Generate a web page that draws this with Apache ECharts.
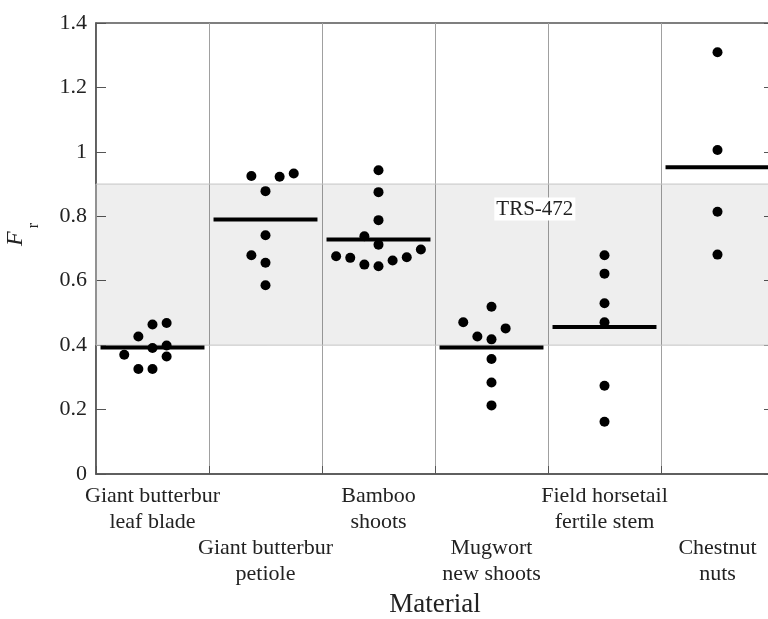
<!DOCTYPE html>
<html>
<head>
<meta charset="utf-8">
<script src="https://cdn.jsdelivr.net/npm/echarts@6/dist/echarts.min.js"></script>
<style>
    html, body { margin: 0; background: #fff; }
    #chart { width: 768px; height: 619px; }
</style>
</head>
<body>
<div id="chart"></div>
<script>
const materials = ['Giant butterbur\nleaf blade', 'Giant butterbur\npetiole', 'Bamboo\nshoots',
    'Mugwort\nnew shoots', 'Field horsetail\nfertile stem', 'Chestnut\nnuts'];

// Fr of each sample, and how far its dot sits from the column centre (in column widths)
const leafBladeFr = [0.370, 0.427, 0.464, 0.469, 0.391, 0.399, 0.365, 0.326, 0.326];
const leafBladeShift = [-0.25, -0.125, 0, 0.125, 0, 0.125, 0.125, -0.125, 0];
const petioleFr = [0.925, 0.923, 0.933, 0.878, 0.741, 0.679, 0.656, 0.586];
const petioleShift = [-0.125, 0.125, 0.25, 0, 0, -0.125, 0, 0];
const bambooFr = [0.943, 0.875, 0.788, 0.738, 0.712, 0.676, 0.671, 0.650, 0.645, 0.663, 0.673, 0.697];
const bambooShift = [0, 0, 0, -0.125, 0, -0.375, -0.25, -0.125, 0, 0.125, 0.25, 0.375];
const mugwortFr = [0.519, 0.471, 0.452, 0.427, 0.418, 0.357, 0.284, 0.213];
const mugwortShift = [0, -0.25, 0.125, -0.125, 0, 0, 0, 0];
const horsetailFr = [0.679, 0.622, 0.530, 0.471, 0.274, 0.162];
const horsetailShift = [0, 0, 0, 0, 0, 0];
const chestnutFr = [1.309, 1.006, 0.814, 0.681];
const chestnutShift = [0, 0, 0, 0];

const yTicks = [0, 0.2, 0.4, 0.6, 0.8, 1, 1.2, 1.4];
const trsRange = [0.4, 0.9];
const trsName = 'TRS-472';

const groups = [
    [leafBladeFr, leafBladeShift],
    [petioleFr, petioleShift],
    [bambooFr, bambooShift],
    [mugwortFr, mugwortShift],
    [horsetailFr, horsetailShift],
    [chestnutFr, chestnutShift]
];

let dots = [];
groups.forEach(([fr, shift], i) => {
    fr.forEach((v, k) => dots.push([i + 0.5 + shift[k], v]));
});
let means = groups.map(([fr], i) => [i, fr.reduce((a, b) => a + b, 0) / fr.length]);

const FONT = 'Liberation Serif';
const INK = '#222';
const AXIS = '#555';

let myChart = echarts.init(document.getElementById('chart'));
let option = {
    animation: false,
    textStyle: { fontFamily: FONT },
    grid: {
        left: 96, top: 23, bottom: 145, right: -6,
        containLabel: false, outerBoundsMode: 'none',
        show: true, borderColor: AXIS, borderWidth: 1.5
    },
    xAxis: [
        {
            type: 'value', min: 0, max: materials.length, interval: 1,
            axisLine: { lineStyle: { color: AXIS, width: 1.5 } },
            axisTick: { inside: true, length: 8, lineStyle: { color: AXIS } },
            axisLabel: { show: false },
            splitLine: { show: true, lineStyle: { color: '#a0a0a0', width: 1 } }
        },
        {
            type: 'category', data: materials, position: 'bottom',
            axisLine: { show: false },
            axisTick: { show: false },
            axisLabel: {
                interval: 0, margin: 9, fontSize: 22, lineHeight: 26, color: INK, fontFamily: FONT,
                formatter: (val, idx) => (idx % 2 ? '\n\n' + val : val)
            },
            name: 'Material', nameLocation: 'middle', nameGap: 117,
            nameTextStyle: { fontSize: 27, color: INK, fontFamily: FONT }
        }
    ],
    yAxis: [
        {
            type: 'value', min: yTicks[0], max: yTicks[yTicks.length - 1], interval: 0.2,
            axisLine: { show: true, lineStyle: { color: AXIS, width: 1.5 } },
            axisTick: { show: true, inside: true, length: 10, lineStyle: { color: AXIS } },
            axisLabel: { fontSize: 22, margin: 9, color: INK, fontFamily: FONT },
            splitLine: { show: false },
            name: '{f|F}{r|r}', nameLocation: 'middle', nameGap: 54,
            nameTextStyle: {
                padding: [0, 0, 0, 28],
                rich: {
                    f: { fontSize: 24, fontStyle: 'italic', fontFamily: FONT, color: INK, lineHeight: 52, verticalAlign: 'middle' },
                    r: { fontSize: 16, fontFamily: FONT, color: INK, lineHeight: 16, padding: [0, 0, 0, 3], verticalAlign: 'bottom' }
                }
            }
        },
        {
            type: 'value', position: 'right', min: yTicks[0], max: yTicks[yTicks.length - 1], interval: 0.2,
            axisLine: { show: true, lineStyle: { color: AXIS, width: 1.5 } },
            axisTick: { show: true, inside: true, length: 10, lineStyle: { color: AXIS } },
            axisLabel: { show: false },
            splitLine: { show: false }
        }
    ],
    series: [
        {
            type: 'line', data: [], z: 1,
            markArea: {
                silent: true,
                itemStyle: { color: 'rgba(0,0,0,0.065)', borderColor: '#c4c4c4', borderWidth: 1 },
                label: {
                    show: true, position: ['64.7%', '15.7%'], align: 'center', verticalAlign: 'middle',
                    fontSize: 21, fontFamily: FONT, color: INK, backgroundColor: '#fff', padding: [1, 2]
                },
                data: [[{ name: trsName, yAxis: trsRange[0], xAxis: 0 }, { yAxis: trsRange[1], xAxis: materials.length }]]
            }
        },
        {
            type: 'scatter', data: dots, symbolSize: 10, z: 3,
            itemStyle: { color: '#000', opacity: 1 }
        },
        {
            type: 'custom', data: means, z: 4,
            renderItem: function (params, api) {
                let i = api.value(0), m = api.value(1);
                let a = api.coord([i + 0.04, m]);
                let b = api.coord([i + 0.96, m]);
                return {
                    type: 'line',
                    shape: { x1: a[0], y1: a[1], x2: b[0], y2: b[1] },
                    style: { stroke: '#000', lineWidth: 4 }
                };
            }
        }
    ]
};
option && myChart.setOption(option);
</script>
</body>
</html>
